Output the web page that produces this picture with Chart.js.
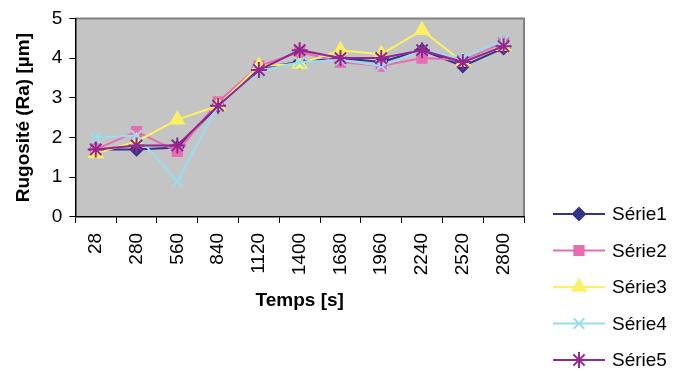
<!DOCTYPE html>
<html lang="fr">
<head>
<meta charset="UTF-8">
<title>Rugosité</title>
<script src="https://cdn.jsdelivr.net/npm/chart.js"></script>
<style>
  html, body { margin: 0; padding: 0; background: #fff; }
  #wrap { width: 685px; height: 372px; }
</style>
</head>
<body>
<div id="wrap"><canvas id="c" width="685" height="372"></canvas></div>
<script>
// temps [s]
const temps = ['28', '280', '560', '840', '1120', '1400', '1680', '1960', '2240', '2520', '2800'];
// rugosite Ra
const serie1 = [1.7, 1.7, 1.75, 2.8, 3.75, 3.9, 4.0, 3.9, 4.2, 3.8, 4.25];
const serie2 = [1.7, 2.15, 1.65, 2.9, 3.8, 4.15, 3.9, 3.8, 4.0, 3.95, 4.4];
const serie3 = [1.6, 1.9, 2.45, 2.8, 3.8, 3.85, 4.2, 4.1, 4.7, 3.9, 4.3];
const serie4 = [2.0, 2.05, 0.9, 2.8, 3.65, 3.9, 3.95, 3.8, 4.2, 4.0, 4.45];
const serie5 = [1.7, 1.8, 1.8, 2.8, 3.7, 4.2, 4.0, 4.0, 4.2, 3.9, 4.3];

const styles = [
  { label: 'Série1', data: serie1, color: '#333388', point: 'rectRot', r: 6 },
  { label: 'Série2', data: serie2, color: '#e86cb2', point: 'rect', r: 6.5 },
  { label: 'Série3', data: serie3, color: '#fbf064', point: 'triangle', r: 7.5 },
  { label: 'Série4', data: serie4, color: '#99dcee', point: 'crossRot', r: 7.5 },
  { label: 'Série5', data: serie5, color: '#93268f', point: 'star', r: 8 }
];

const FONT = '"Liberation Sans", Arial, sans-serif';

// fond gris et bordure du cadre
const plotBg = {
  id: 'plotBg',
  beforeDraw(chart) {
    const a = chart.chartArea, ctx = chart.ctx;
    ctx.save();
    ctx.fillStyle = '#c4c4c4';
    ctx.fillRect(a.left, a.top, a.right - a.left, a.bottom - a.top);
    ctx.strokeStyle = '#808080';
    ctx.lineWidth = 2;
    ctx.beginPath();
    ctx.moveTo(a.left, a.top);
    ctx.lineTo(a.right, a.top);
    ctx.lineTo(a.right, a.bottom);
    ctx.stroke();
    ctx.restore();
  }
};

// legende a droite, en bas
const sideLegend = {
  id: 'sideLegend',
  afterDraw(chart) {
    const ctx = chart.ctx;
    ctx.save();
    chart.data.datasets.forEach((ds, i) => {
      const y = 214 + i * 36.5;
      const x0 = 553, x1 = 605;
      ctx.strokeStyle = ds.borderColor;
      ctx.fillStyle = ds.backgroundColor;
      ctx.lineWidth = 2;
      ctx.beginPath();
      ctx.moveTo(x0, y);
      ctx.lineTo(x1, y);
      ctx.stroke();
      Chart.helpers.drawPoint(ctx, {
        pointStyle: ds.pointStyle,
        radius: ds.pointRadius,
        borderWidth: 2
      }, (x0 + x1) / 2, y);
      ctx.fillStyle = '#000';
      ctx.font = '19px ' + FONT;
      ctx.textBaseline = 'middle';
      ctx.fillText(ds.label, 612, y + 1);
    });
    ctx.restore();
  }
};

const ctx = document.getElementById('c').getContext('2d');
new Chart(ctx, {
  type: 'line',
  data: {
    labels: temps,
    datasets: styles.map((s, i) => ({
      label: s.label,
      data: s.data,
      borderColor: s.color,
      backgroundColor: s.color,
      pointStyle: s.point,
      pointRadius: s.r,
      pointBorderWidth: 2,
      borderWidth: 2,
      tension: 0,
      order: styles.length - i
    }))
  },
  options: {
    responsive: false,
    animation: false,
    layout: { padding: { left: 12, top: 6, right: 161, bottom: 60 } },
    plugins: { legend: { display: false }, tooltip: { enabled: false } },
    scales: {
      x: {
        offset: true,
        grid: { offset: true, drawOnChartArea: false, color: '#000', tickLength: 6 },
        border: { color: '#000', width: 1.5 },
        ticks: {
          color: '#000', minRotation: 90, maxRotation: 90, padding: 10,
          font: { size: 19, family: FONT }
        },
        title: {
          display: true, text: 'Temps [s]', color: '#000', padding: { top: 4, bottom: 0 },
          font: { size: 19, weight: 'bold', family: FONT }
        }
      },
      y: {
        min: 0, max: 5,
        grid: { drawOnChartArea: false, color: '#000', tickLength: 6 },
        border: { color: '#000', width: 1.5 },
        ticks: {
          stepSize: 1, color: '#000', padding: 7,
          font: { size: 19, family: FONT }
        },
        title: {
          display: true, text: 'Rugosité (Ra) [µm]', color: '#000', padding: { top: 0, bottom: 10 },
          font: { size: 19, weight: 'bold', family: FONT }
        }
      }
    }
  },
  plugins: [plotBg, sideLegend]
});
</script>
</body>
</html>
